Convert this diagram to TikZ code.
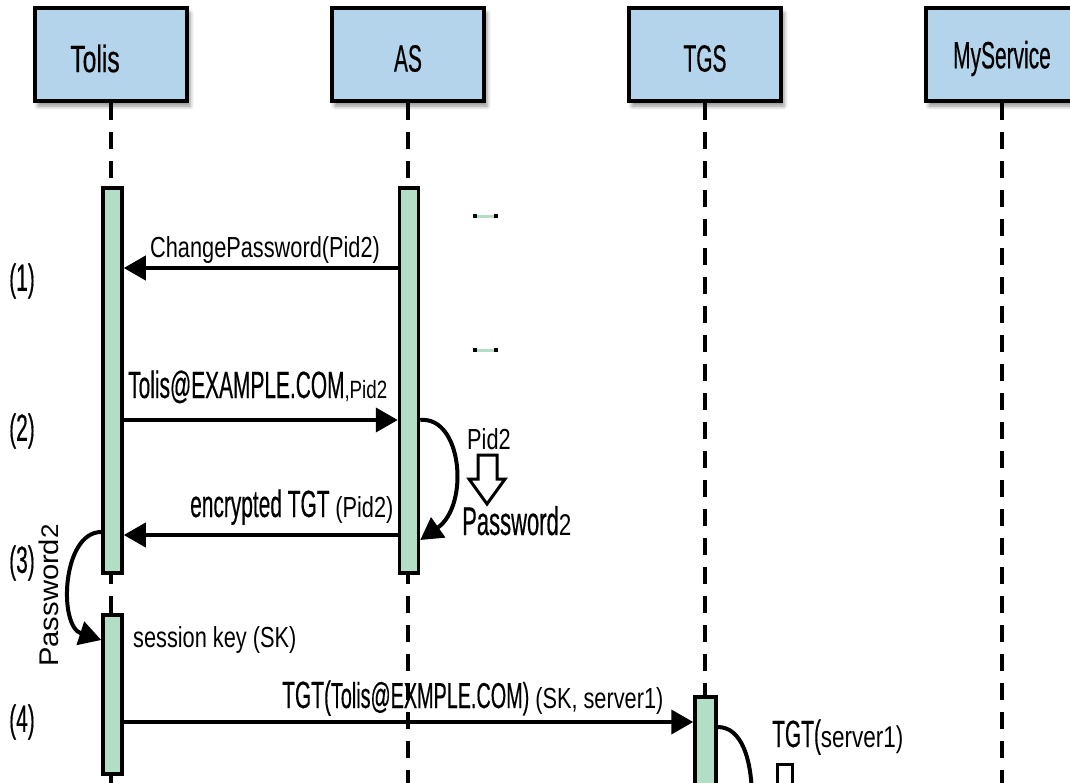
\documentclass[tikz,border=0pt]{standalone}
\usepackage{fontspec}
\setmainfont{Liberation Sans}
\newfontfamily\cnd[FakeStretch=0.55,FakeBold=0.35]{Liberation Sans}
\newfontfamily\cndw[FakeStretch=0.65,FakeBold=0.35]{Liberation Sans}
\newfontfamily\nar[FakeStretch=0.75]{Liberation Sans}
\newfontfamily\wid[FakeStretch=1.08]{Liberation Sans}
\usetikzlibrary{arrows.meta,shadows.blur}
\definecolor{boxblue}{HTML}{B3D4EA}
\definecolor{bargreen}{HTML}{B2DEC7}
\newcommand{\cfont}[1]{\cnd\fontsize{#1}{#1}\selectfont}
\newcommand{\nfont}[1]{\nar\fontsize{#1}{#1}\selectfont}
\begin{document}
\begin{tikzpicture}[x=1pt,y=-1pt,
  part/.style={draw, line width=4, fill=boxblue, minimum width=152, minimum height=93,
    inner sep=0pt,
    blur shadow={shadow xshift=3pt, shadow yshift=-5pt, shadow blur radius=4pt, shadow opacity=45}},
  ptext/.style={yshift=-4pt, font=\cfont{38}},
  life/.style={line width=3.2, dash pattern=on 17pt off 12pt},
  bar/.style={draw, line width=3.5, fill=bargreen, minimum width=19, inner sep=0pt},
  msg/.style={line width=4, -{Triangle[length=22pt,width=24pt]}},
  lbl/.style={inner sep=0pt, anchor=base west},
  num/.style={inner sep=0pt, font=\cfont{38}},
  blockarrow/.style={draw, line width=3, fill=white, line join=miter}]
\useasboundingbox (0,0) rectangle (1070,782);
\clip (0,0) rectangle (1070,782);

% participants
\node[part, label={[ptext, xshift=-16pt, font=\cndw\fontsize{38}{38}\selectfont]center:Tolis}] (tolis) at (111,54.5) {};
\node[part, label={[ptext]center:AS}] (as) at (408,54.5) {};
\node[part, label={[ptext]center:TGS}] (tgs) at (705,54.5) {};
\node[part, label={[ptext]center:MyService}] (svc) at (1002,54.5) {};

% lifelines
\foreach \p in {tolis,as,tgs,svc}
  \draw[life] (\p.south) -- ++(0,700);

% activation bars
\node[bar, minimum height=385] (tb1) at (112.5,380.5) {};
\node[bar, minimum height=385] (ab1) at (409,380.5) {};
\node[bar, minimum height=159] (tb2) at (112.5,694.5) {};
\node[bar, minimum height=110, minimum width=21] (gb) at (705.5,752) {};

% message levels
\coordinate (y1) at (0,268);
\coordinate (y2) at (0,420);
\coordinate (y3) at (0,535);
\coordinate (y4) at (0,722);
\coordinate (yr) at (0,540);
\coordinate (yl1) at (0,532);
\coordinate (yl2) at (0,640);
\coordinate (yg) at (0,727);
\coordinate (gend) at (752,800);

% messages
\draw[msg] (ab1.west |- y1) -- (tb1.east |- y1);
\draw[msg] (tb1.east |- y2) -- (ab1.west |- y2);
\draw[msg] (ab1.west |- y3) -- (tb1.east |- y3);
\draw[msg] (tb2.east |- y4) -- (gb.west |- y4);

% self calls
\draw[msg] (ab1.east |- y2) .. controls (462,416) and (470,505) .. (ab1.east |- yr);
\draw[msg] (tb1.west |- yl1) .. controls (62,532) and (58,626) .. (tb2.west |- yl2);
\draw[line width=4] (gb.east |- yg) .. controls (742,727) and (752,760) .. (gend);

% step numbers
\node[num] (n1) at (22,281) {(1)};
\node[num] (n2) at (22,431) {(2)};
\node[num] (n3) at (22,563) {(3)};
\node[num] (n4) at (22,722) {(4)};

% message labels
\node[lbl] (l1) at (150,257) {\nfont{29}ChangePassword(Pid2)};
\node[lbl] (l2) at (128,398) {\cfont{38}Tolis@EXAMPLE.COM\nfont{25},Pid2};
\node[lbl] (l3) at (190,517) {\cfont{38}encrypted TGT \nfont{29}(Pid2)};
\node[lbl] (l4) at (467,449) {\nfont{29}Pid2};
\node[lbl] (l5) at (462,535) {\cfont{40}Password\nfont{30}2};
\node[lbl, rotate=90] (l6) at (58,667) {\wid\fontsize{27}{27}\selectfont Password\fontsize{24}{24}\selectfont 2};
\node[lbl] (l7) at (133,647) {\nfont{29}session key (SK)};
\node[lbl] (l8) at (282,708) {\cfont{38}TGT(\cfont{36}Tolis@EXMPLE.COM)\,\nfont{29}(SK, server1)};
\node[lbl] (l9) at (772,747) {\cfont{38}TGT(\nfont{30}server1)};

% Pid2 => Password2 transform arrow
\draw[blockarrow] (478,455) -- (497,455) -- (497,479) -- (505,479) -- (487,504)
  -- (469,479) -- (478,479) -- cycle;
\draw[blockarrow] (777,790) -- (777,764) -- (792,764) -- (792,790);

% small marks
\foreach \yy in {216,350}{
  \draw[bargreen, line width=3] (475,\yy) -- (496,\yy);
  \fill (473,\yy-1.8) rectangle (477,\yy+1.8);
  \fill (494,\yy-1.8) rectangle (498,\yy+1.8);
}
\end{tikzpicture}
\end{document}
